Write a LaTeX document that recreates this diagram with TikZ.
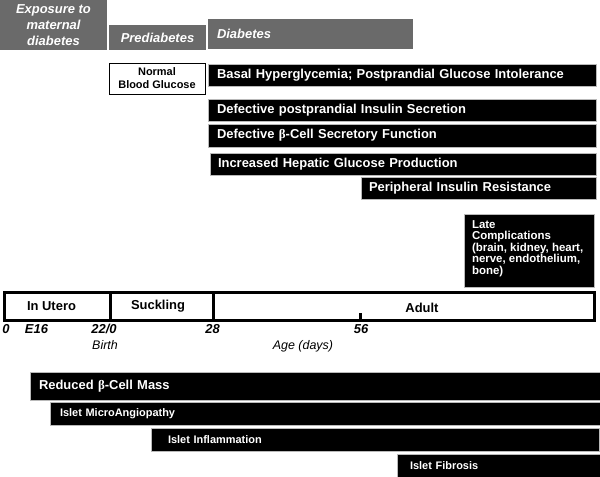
\documentclass[tikz,border=0pt]{standalone}
\usepackage{fontspec}
\setmainfont{Liberation Sans}
\newfontfamily\greekfont{Liberation Serif}
\newcommand\bet{{\greekfont β}}
\definecolor{phase}{RGB}{106,106,106}
\tikzset{
  bx/.style={anchor=north west, inner sep=0pt, outer sep=0pt},
  phasebox/.style={bx, fill=phase, text=white, font=\fontsize{13}{16}\selectfont\bfseries\itshape},
  blackbar/.style={bx, fill=black, draw=gray!55, line width=0.6bp, text=white, align=left,
    font=\fontsize{13}{15}\selectfont\bfseries},
  islet/.style={blackbar, font=\fontsize{11}{12}\selectfont\bfseries},
  seg/.style={bx, draw=black, line width=3bp},
  seglabel/.style={font=\fontsize{13}{15}\selectfont\bfseries},
  agetick/.style={font=\fontsize{13}{15}\selectfont\bfseries\itshape},
  axislabel/.style={font=\fontsize{12.5}{15}\selectfont\itshape},
}
\begin{document}
\begin{tikzpicture}[x=1bp,y=-1bp]
\useasboundingbox (0,0) rectangle (600,477);
% phase headers
\node[phasebox, minimum width=107bp, minimum height=50bp, align=center] (expo) at (0,0) {Exposure to\\maternal\\diabetes};
\node[phasebox, minimum width=97bp, minimum height=25bp] (pre) at (109,25) {Prediabetes};
\node[phasebox, minimum width=205bp, minimum height=30bp, inner xsep=9bp, text width=187bp, align=left] (dia) at (208,19) {\raisebox{-3bp}{Diabetes}};
% normal blood glucose
\node[bx, draw=black, line width=0.8bp, minimum width=96bp, minimum height=31bp, align=center,
  font=\fontsize{11}{13}\selectfont\bfseries] (nbg) at (109,63) {Normal\\Blood Glucose};
% diabetes features
\node[blackbar, minimum width=388bp, minimum height=22bp, inner xsep=9bp, text width=370bp] (basal) at (208,64) {Basal Hyperglycemia; Postprandial Glucose Intolerance};
\node[blackbar, minimum width=388bp, minimum height=22bp, inner xsep=9bp, text width=370bp] (defpost) at (208,99) {Defective postprandial Insulin Secretion};
\node[blackbar, minimum width=388bp, minimum height=23bp, inner xsep=9bp, text width=370bp] (defbeta) at (208,124) {Defective \bet-Cell Secretory Function};
\node[blackbar, minimum width=386bp, minimum height=22bp, inner xsep=8bp, text width=370bp] (hep) at (210,153) {Increased Hepatic Glucose Production};
\node[blackbar, minimum width=235bp, minimum height=22bp, inner xsep=8bp, text width=219bp] (periph) at (361,177) {Peripheral Insulin Resistance};
\node[blackbar, minimum width=130bp, minimum height=73bp, inner xsep=3bp, inner ysep=0pt,
  font=\fontsize{11.5}{11.7}\selectfont\bfseries] (late) at (464,214)
  {\parbox[c][73bp][t]{124bp}{\leftskip=5bp\rule{0pt}{14bp}Late\\Complications\\(brain, kidney, heart,\\nerve, endothelium,\\bone)}};
% timeline
\node[seg, minimum width=106bp, minimum height=28bp] (utero) at (4,292) {};
\node[seg, minimum width=103bp, minimum height=28bp] (suck) at (110,292) {};
\node[seg, minimum width=381bp, minimum height=28bp] (adult) at (213,292) {};
\coordinate (tk) at (360,313);
\draw[line width=3bp] (tk) -- (tk |- adult.south);
\node[seglabel] (lutero) at (51.5,306.5) {In Utero};
\node[seglabel] (lsuck) at (158,306.5) {Suckling};
\node[seglabel] (ladult) at (422,307.5) {Adult};
\node[agetick] (a0) at (6,329) {0};
\node[agetick] (a16) at (36.5,329) {E16};
\node[agetick] (a22) at (104,329) {22/0};
\node[agetick] (a28) at (212.5,329) {28};
\node[agetick] (a56) at (361,329) {56};
\node[axislabel] (birth) at (105,345) {Birth};
\node[axislabel] (age) at (303,346.5) {Age (days)};
% islet changes
\node[blackbar, minimum width=571bp, minimum height=28bp, inner xsep=9bp, text width=553bp] (mass) at (30,372) {Reduced \bet-Cell Mass};
\node[islet, minimum width=551bp, minimum height=23bp, inner xsep=10bp, text width=531bp] (micro) at (50,402) {Islet MicroAngiopathy};
\node[islet, minimum width=448bp, minimum height=23bp, inner xsep=17bp, text width=414bp] (infl) at (151,428) {Islet Inflammation};
\node[islet, minimum width=204bp, minimum height=24bp, inner xsep=13bp, text width=178bp] (fib) at (397,454) {Islet Fibrosis};
\end{tikzpicture}
\end{document}
